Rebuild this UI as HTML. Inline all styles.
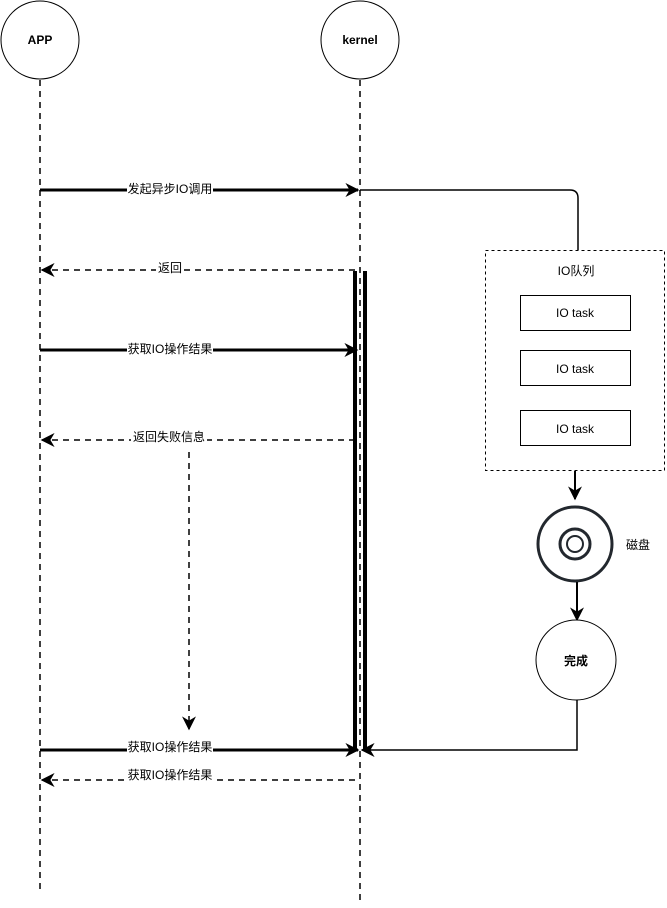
<!DOCTYPE html>
<html><head><meta charset="utf-8"><style>
body{margin:0;background:#fff}
text{font-family:"Liberation Sans","Noto Sans CJK SC",sans-serif;font-size:12px;fill:#000}
</style></head><body>
<svg width="667" height="903" viewBox="0 0 667 903" xmlns="http://www.w3.org/2000/svg">
<defs>
<marker id="b" viewBox="0 0 10 10" refX="9" refY="5" markerWidth="14" markerHeight="14" orient="auto" markerUnits="userSpaceOnUse"><path d="M0,0 L10,5 L0,10 L3,5Z" fill="#000"/></marker>
</defs>
<circle cx="40" cy="40" r="39" fill="#fff" stroke="#000"/>
<text x="40" y="44" text-anchor="middle" font-weight="bold">APP</text>
<circle cx="360" cy="40" r="39" fill="#fff" stroke="#000"/>
<text x="360" y="44" text-anchor="middle" font-weight="bold">kernel</text>
<line x1="40" y1="80" x2="40" y2="892" stroke="#000" stroke-width="1.5" stroke-dasharray="6,5"/>
<line x1="360" y1="80" x2="360" y2="900" stroke="#000" stroke-width="1.5" stroke-dasharray="6,5"/>
<rect x="353" y="271" width="4" height="480" fill="#000"/>
<rect x="363" y="271" width="4" height="480" fill="#000"/>
<line x1="360" y1="190" x2="570" y2="190" stroke="#000" stroke-width="1.5"/>
<path d="M570,190 Q578,190 578,198 L578,250" fill="none" stroke="#000" stroke-width="1.5"/>
<line x1="40" y1="190" x2="358" y2="190" stroke="#000" stroke-width="3" marker-end="url(#b)"/>
<rect x="127" y="180" width="86" height="16" fill="#fff"/><text x="170" y="193" text-anchor="middle">发起异步IO调用</text>
<line x1="355" y1="270" x2="42" y2="270" stroke="#000" stroke-dasharray="6,5" stroke-width="1.5" marker-end="url(#b)"/>
<rect x="156" y="260" width="28" height="14" fill="#fff"/><text x="170" y="272" text-anchor="middle">返回</text>
<line x1="40" y1="350" x2="357" y2="350" stroke="#000" stroke-width="3" marker-end="url(#b)"/>
<rect x="127" y="341" width="86" height="16" fill="#fff"/><text x="170" y="353" text-anchor="middle">获取IO操作结果</text>
<line x1="355" y1="440" x2="42" y2="440" stroke="#000" stroke-dasharray="6,5" stroke-width="1.5" marker-end="url(#b)"/>
<rect x="131" y="430" width="76" height="14" fill="#fff"/><text x="169" y="441" text-anchor="middle">返回失败信息</text>
<line x1="189" y1="452" x2="189" y2="729" stroke="#000" stroke-dasharray="6,5" stroke-width="1.5" marker-end="url(#b)"/>
<line x1="40" y1="750" x2="358" y2="750" stroke="#000" stroke-width="3" marker-end="url(#b)"/>
<rect x="127" y="740" width="86" height="16" fill="#fff"/><text x="170" y="751" text-anchor="middle">获取IO操作结果</text>
<line x1="355" y1="780" x2="42" y2="780" stroke="#000" stroke-dasharray="6,5" stroke-width="1.5" marker-end="url(#b)"/>
<rect x="127" y="769" width="86" height="14" fill="#fff"/><text x="170" y="779" text-anchor="middle">获取IO操作结果</text>
<rect x="485.5" y="250.5" width="179" height="220" fill="none" stroke="#000" stroke-dasharray="3,3"/>
<text x="576" y="275" text-anchor="middle">IO队列</text>
<rect x="520.5" y="295.5" width="110" height="35" fill="#fff" stroke="#000"/><text x="575" y="317" text-anchor="middle">IO task</text>
<rect x="520.5" y="350.5" width="110" height="35" fill="#fff" stroke="#000"/><text x="575" y="373" text-anchor="middle">IO task</text>
<rect x="520.5" y="410.5" width="110" height="35" fill="#fff" stroke="#000"/><text x="575" y="433" text-anchor="middle">IO task</text>
<line x1="575" y1="471" x2="575" y2="499" stroke="#000" stroke-width="2" marker-end="url(#b)"/>
<circle cx="575" cy="544" r="37" fill="#fff" stroke="#23282e" stroke-width="3"/>
<circle cx="575" cy="544" r="15" fill="none" stroke="#23282e" stroke-width="3"/>
<circle cx="575" cy="544" r="8" fill="none" stroke="#23282e" stroke-width="2"/>
<text x="626" y="549">磁盘</text>
<line x1="577" y1="582" x2="577" y2="620" stroke="#000" stroke-width="2" marker-end="url(#b)"/>
<circle cx="576" cy="660" r="40" fill="#fff" stroke="#000"/>
<text x="576" y="665" text-anchor="middle" font-weight="bold">完成</text>
<path d="M577,700 L577,750 L362,750" fill="none" stroke="#000" stroke-width="1.5" marker-end="url(#b)"/>
</svg>
</body></html>
